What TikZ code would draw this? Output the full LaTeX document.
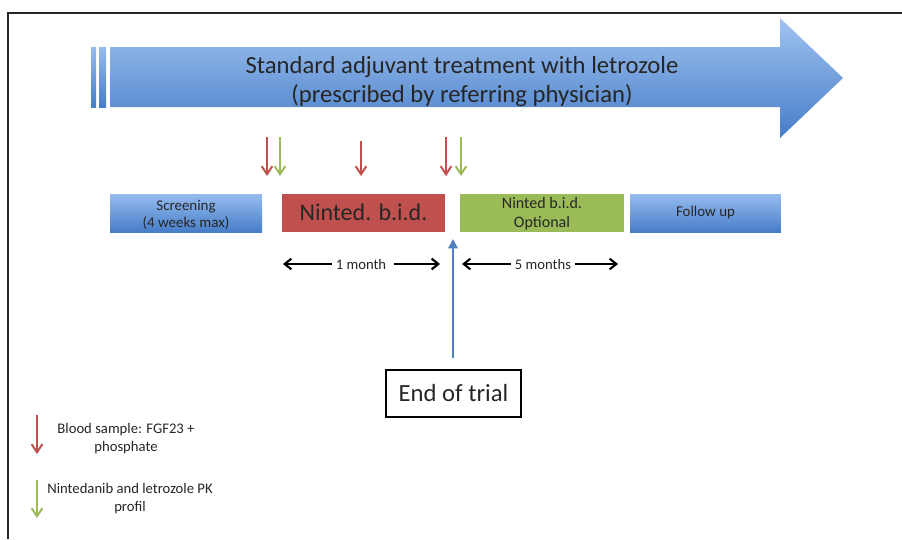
\documentclass[tikz,border=0pt]{standalone}
\usepackage{fontspec}
\setmainfont{Carlito}
\usetikzlibrary{arrows.meta}
\definecolor{bred}{RGB}{192,80,77}
\definecolor{bgreen}{RGB}{155,187,89}
\definecolor{bblue}{RGB}{79,129,189}
\definecolor{btop}{RGB}{150,188,238}
\definecolor{bbot}{RGB}{70,125,200}
\begin{document}
\begin{tikzpicture}[x=0.75pt,y=-0.75pt,
  phase/.style={draw=none, inner sep=0pt, minimum height=28.5pt, align=center, text=black!85},
  bluephase/.style={phase, top color=btop, bottom color=bbot},
  redarrow/.style={draw=bred, line width=1.5pt, -{Straight Barb[length=6pt,width=8pt]}},
  greenarrow/.style={draw=bgreen, line width=1.5pt, -{Straight Barb[length=6pt,width=8pt]}},
  spanarrow/.style={draw=black, line width=1.6pt, -{Straight Barb[length=5pt,width=8pt]}},
  small/.style={font=\fontsize{11}{12.5}\selectfont, text=black!85, align=center, inner sep=0pt}
]
\useasboundingbox (0,0) rectangle (902,539);
% frame
\draw[line width=1pt, black!85] (8,539) -- (8,13) -- (902,13);

% big arrow
\fill[top color=btop, bottom color=bbot] (91,47) rectangle (96,107);
\fill[top color=btop, bottom color=bbot] (99,47) rectangle (106,107);
\path[top color=btop!90, bottom color=bbot, draw=none]
  (110,47) -- (780,47) -- (780,18) -- (843,78) -- (780,138) -- (780,107) -- (110,107) -- cycle;
\node[align=center, text=black!85, font=\fontsize{18.5}{21.75}\selectfont, inner sep=0pt] (std) at (462,82)
  {Standard adjuvant treatment with letrozole\\(prescribed by referring physician)};

% phases
\node[bluephase, minimum width=114pt, font=\fontsize{11.2}{12.5}\selectfont] (scr) at (186,213) {};
\node[font=\fontsize{11.2}{12.5}\selectfont, text=black!85, align=center, inner sep=0pt] (scrt) at (186,215) {Screening\\(4 weeks max)};
\node[phase, fill=bred, minimum width=122pt, font=\fontsize{18}{20}\selectfont] (nin) at (363.5,212.5) {Ninted. b.i.d.};
\node[phase, fill=bgreen, minimum width=123pt] (opt) at (542,212.5) {};
\node[font=\fontsize{12}{14.5}\selectfont, text=black!85, align=center, inner sep=0pt] (optt) at (542,214) {Ninted b.i.d.\\Optional};
\node[bluephase, minimum width=113pt, font=\fontsize{11.2}{12.5}\selectfont] (fol) at (705.5,213) {Follow up};

% sample arrows
\coordinate (r1a) at (267,137); \coordinate (r1b) at (267,176);
\coordinate (g1a) at (280,137); \coordinate (g1b) at (280,176);
\coordinate (r2a) at (361,141); \coordinate (r2b) at (361,176);
\coordinate (r3a) at (446,137); \coordinate (r3b) at (446,176);
\coordinate (g2a) at (461,137); \coordinate (g2b) at (461,176);
\draw[redarrow] (r1a) -- (r1b);
\draw[greenarrow] (g1a) -- (g1b);
\draw[redarrow] (r2a) -- (r2b);
\draw[redarrow] (r3a) -- (r3b);
\draw[greenarrow] (g2a) -- (g2b);

% durations
\node[small] (m1) at (361,264) {1 month};
\node[small] (m5) at (543,264) {5 months};
\coordinate (m1l) at (283,264); \coordinate (m1r) at (440,264);
\coordinate (m5l) at (462,264); \coordinate (m5r) at (618,264);
\draw[spanarrow] ([xshift=-3pt]m1.west) -- (m1l);
\draw[spanarrow] ([xshift=6pt]m1.east) -- (m1r);
\draw[spanarrow] ([xshift=-3pt]m5.west) -- (m5l);
\draw[spanarrow] ([xshift=3pt]m5.east) -- (m5r);

% end of trial
\node[draw=black, line width=1.2pt, minimum width=101pt, minimum height=35pt, inner sep=0pt,
      font=\fontsize{18.5}{21}\selectfont, text=black!85] (eot) at (453.5,393.5) {End of trial};
\coordinate (eotup) at (453,358);
\coordinate (eottip) at (453,239);
\draw[draw=bblue, line width=1.5pt, -{Triangle[length=7pt,width=7pt]}] (eotup) -- (eottip);

% legend
\coordinate (lra) at (37,415); \coordinate (lrb) at (37,454);
\coordinate (lga) at (37,480); \coordinate (lgb) at (37,518);
\draw[redarrow] (lra) -- (lrb);
\draw[greenarrow] (lga) -- (lgb);
\node[small, font=\fontsize{11}{13.5}\selectfont] (lr) at (126,439) {Blood sample: FGF23 +\\phosphate};
\node[small, font=\fontsize{11}{13.5}\selectfont] (lg) at (130,499) {Nintedanib and letrozole PK\\profil};
\end{tikzpicture}
\end{document}
